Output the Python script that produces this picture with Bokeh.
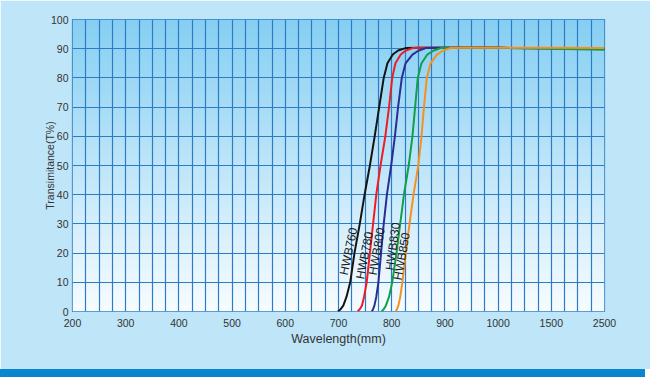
import numpy as np
from bokeh.plotting import figure
from bokeh.models import FixedTicker, Div
from bokeh.layouts import column
from bokeh.embed import file_html
from bokeh.resources import INLINE
from bokeh.core.properties import value

# ---- axis definition (non-uniform wavelength axis) ----
tick_wl = [200, 300, 400, 500, 600, 700, 800, 900, 1000, 1500, 2500]
tick_labels = [str(v) for v in tick_wl]
y_ticks = list(range(0, 101, 10))

# ---- series ----
series_names = ["HWB760", "HWB780", "HWB800", "HWB830", "HWB850"]
series_colors = ["#141414", "#EE1C25", "#2B2D92", "#10A04A", "#F7901E"]

wl_760 = [699, 704, 709, 715, 722, 730, 740, 749, 759, 768, 776.5, 785, 792, 802, 812, 826, 850, 1000, 1500, 2500]
t_760 = [0, 0.8, 2, 5, 10, 20, 30, 40, 50, 60, 70, 80, 85, 88, 89.4, 90.2, 90.3, 90.3, 90.2, 90.0]

wl_780 = [736, 740, 744, 748, 753, 759, 765, 771, 779, 788, 795, 801, 807, 817, 826, 839, 860, 1000, 1500, 2500]
t_780 = [0, 0.8, 2, 5, 10, 20, 30, 40, 50, 60, 70, 80, 85, 88, 89.3, 90.2, 90.3, 90.3, 90.2, 90.0]

wl_800 = [762.5, 765, 767.5, 771, 775, 780, 785, 791, 799, 806, 812, 819, 826, 839, 850, 864, 890, 1000, 1500, 2500]
t_800 = [0, 0.8, 2, 5, 10, 20, 30, 40, 50, 60, 70, 80, 85, 88, 89.3, 90.2, 90.3, 90.3, 90.1, 89.9]

wl_830 = [781, 785, 789, 795, 801, 809, 816, 823, 832, 839, 844, 849, 856, 867, 878, 892, 920, 1000, 1500, 2500]
t_830 = [0, 0.8, 2, 5, 10, 20, 30, 40, 50, 60, 70, 80, 85, 88, 89.3, 90.2, 90.3, 90.3, 90.0, 89.6]

wl_850 = [807.5, 810, 812.5, 816, 820, 826.5, 833.5, 841, 850, 856, 860.6, 866, 873, 885, 896, 910, 940, 1000, 1500, 2500]
t_850 = [0, 0.8, 2, 5, 10, 20, 30, 40, 50, 60, 70, 80, 85, 88, 89.3, 90.2, 90.3, 90.3, 90.3, 90.2]

series_wl = [wl_760, wl_780, wl_800, wl_830, wl_850]
series_t = [t_760, t_780, t_800, t_830, t_850]

# curve label anchor points (wavelength, transmittance) and tilt (degrees)
label_wl = [719, 749, 772, 802, 819]
label_t = [20.6, 19.2, 20.6, 22.3, 18.9]
label_angle_deg = [78, 79, 80, 82, 80]

tick_pos = list(range(len(tick_wl)))


def to_pos(wl):
    """Map wavelengths onto the chart's piecewise axis (one tick interval per label)."""
    return np.interp(wl, tick_wl, tick_pos)


FONT = "Liberation Sans"
GRID = "#2C7BC6"
TXT = "#333333"

p = figure(width=650, height=369, x_range=(0, 10), y_range=(0, 100),
           output_backend="svg", toolbar_location=None,
           min_border_left=72, min_border_right=46, min_border_top=19, min_border_bottom=58)
p.border_fill_color = "#BEE5F8"
p.background_fill_color = "#CDEBFA"
p.outline_line_color = GRID
p.outline_line_width = 1.2

# vertical gradient background of the plotting area
H = 256
top = np.array([0x86, 0xCF, 0xF3], dtype=float)
bot = np.array([0xF7, 0xFC, 0xFF], dtype=float)
f = np.linspace(0, 1, H)[:, None]
rgb = bot * (1 - f) + top * f
img = np.empty((H, 1), dtype=np.uint32)
view = img.view(dtype=np.uint8).reshape((H, 1, 4))
view[:, 0, 0] = rgb[:, 0].astype(np.uint8)
view[:, 0, 1] = rgb[:, 1].astype(np.uint8)
view[:, 0, 2] = rgb[:, 2].astype(np.uint8)
view[:, 0, 3] = 255
p.image_rgba(image=[img], x=0, y=0, dw=10, dh=100, level="image")

# grids
p.xgrid.ticker = FixedTicker(ticks=list(np.arange(0, len(tick_wl) - 1 + 1e-9, 0.25)))
p.ygrid.ticker = FixedTicker(ticks=y_ticks)
for g in (p.xgrid, p.ygrid):
    g.grid_line_color = GRID
    g.grid_line_width = 1.2
    g.grid_line_alpha = 1.0

# x axis
p.xaxis.ticker = FixedTicker(ticks=tick_pos)
p.xaxis.major_label_overrides = {i: s for i, s in zip(tick_pos, tick_labels)}
p.xaxis.axis_line_color = None
p.xaxis.major_tick_line_color = None
p.xaxis.minor_tick_line_color = None
p.xaxis.major_tick_out = 0
p.xaxis.major_label_standoff = 7
p.xaxis.major_label_text_font = FONT
p.xaxis.major_label_text_font_size = "10.5px"
p.xaxis.major_label_text_color = TXT
p.xaxis.axis_label = "Wavelength(mm)"
p.xaxis.axis_label_text_font = FONT
p.xaxis.axis_label_text_font_style = "normal"
p.xaxis.axis_label_text_font_size = "12.5px"
p.xaxis.axis_label_text_color = TXT
p.xaxis.axis_label_standoff = 2

# y axis
p.yaxis.ticker = FixedTicker(ticks=y_ticks)
p.yaxis.axis_line_color = None
p.yaxis.major_tick_line_color = None
p.yaxis.minor_tick_line_color = None
p.yaxis.major_tick_out = 0
p.yaxis.minor_tick_out = 0
p.yaxis.major_label_standoff = 4
p.yaxis.major_label_text_font = FONT
p.yaxis.major_label_text_font_size = "10.5px"
p.yaxis.major_label_text_color = TXT
p.yaxis.axis_label = "Transimitance(T%)"
p.yaxis.axis_label_text_font = FONT
p.yaxis.axis_label_text_font_style = "normal"
p.yaxis.axis_label_text_font_size = "10.5px"
p.yaxis.axis_label_text_color = TXT
p.yaxis.axis_label_standoff = -8

# curves
for wl, t, c in zip(series_wl, series_t, series_colors):
    p.line(to_pos(wl), t, line_color=c, line_width=2)

# curve labels (tilted along the curves)
p.text(x=to_pos(label_wl), y=label_t, text=series_names,
       angle=[np.deg2rad(a) for a in label_angle_deg],
       text_align="center", text_baseline="middle",
       text_font=value(FONT), text_font_size="12px", text_color="#1a1a1a")

# decorative bottom strip
strip = Div(text="", width=645, height=8, margin=0,
            styles={"background-color": "#0A85D0"})

layout = column(p, strip, spacing=0)

open("out.html", "w").write(file_html(layout, INLINE))
